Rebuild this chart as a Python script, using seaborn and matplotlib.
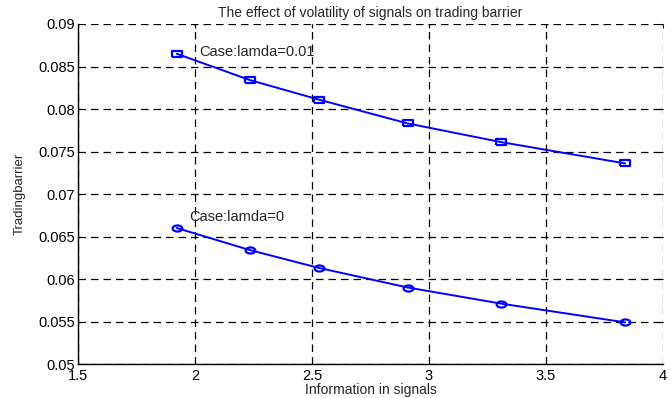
import matplotlib
matplotlib.use("Agg")
import matplotlib.pyplot as plt
import seaborn as sns
import pandas as pd
import numpy as np

# Information in signals (x) and trading barrier for the two lambda cases
info = [1.922, 2.235, 2.530, 2.909, 3.309, 3.838]
barrier_lamda_001 = [0.0865, 0.0834, 0.0811, 0.0783, 0.0761, 0.0736]
barrier_lamda_0 = [0.0660, 0.0634, 0.0613, 0.0590, 0.0571, 0.0549]

x_ticks = [1.5, 2, 2.5, 3, 3.5, 4]
y_ticks = [0.05, 0.055, 0.06, 0.065, 0.07, 0.075, 0.08, 0.085, 0.09]
x_tick_labels = ["1.5", "2", "2.5", "3", "3.5", "4"]
y_tick_labels = ["0.05", "0.055", "0.06", "0.065", "0.07", "0.075", "0.08", "0.085", "0.09"]

sns.set_style("white")
plt.rcParams["font.family"] = ["Liberation Sans", "DejaVu Sans"]

fig = plt.figure(figsize=(6.71, 3.98), dpi=100)
ax = fig.add_axes([0.1162, 0.0854, 0.8719, 0.8543])

# wide square and wide circle markers
sq = [(-1.5, -1), (1.5, -1), (1.5, 1), (-1.5, 1), (-1.5, -1)]
t = np.linspace(0, 2 * np.pi, 40)
ell = list(zip(1.6 * np.cos(t), np.sin(t)))

df1 = pd.DataFrame({"x": info, "y": barrier_lamda_001})
df0 = pd.DataFrame({"x": info, "y": barrier_lamda_0})
sns.lineplot(data=df1, x="x", y="y", ax=ax, color="#0000ff", lw=1.4,
             marker=sq, markersize=7, markerfacecolor="none",
             markeredgecolor="#0000ff", markeredgewidth=1.6, zorder=3)
sns.lineplot(data=df0, x="x", y="y", ax=ax, color="#0000ff", lw=1.4,
             marker=ell, markersize=7, markerfacecolor="none",
             markeredgecolor="#0000ff", markeredgewidth=1.6, zorder=3)

ax.set_xlim(1.5, 4)
ax.set_ylim(0.05, 0.09)
ax.set_xticks(x_ticks)
ax.set_xticklabels(x_tick_labels)
ax.set_yticks(y_ticks)
ax.set_yticklabels(y_tick_labels)

ax.grid(True, color="black", linestyle=(0, (6, 4)), linewidth=0.9)
ax.set_axisbelow(True)
for s in ["top", "right"]:
    ax.spines[s].set_visible(False)
for s in ["left", "bottom"]:
    ax.spines[s].set_color("black")
    ax.spines[s].set_linewidth(1.0)

ax.tick_params(axis="both", direction="in", length=3, width=0.8, colors="black",
               labelsize=10.5, top=True, right=True, pad=2)
ax.tick_params(axis="x", pad=3.5)

ax.set_title("The effect of volatility of signals on trading barrier",
             fontsize=10, pad=5)
ax.set_xlabel("Information in signals", fontsize=10, labelpad=0)
ax.set_ylabel("Tradingbarrier", fontsize=9.5, labelpad=9)

ax.text(2.02, 0.0867, "Case:lamda=0.01", fontsize=10.5, va="center", ha="left")
ax.text(1.975, 0.0673, "Case:lamda=0", fontsize=10.5, va="center", ha="left")

fig.savefig("out.png", dpi=100)
